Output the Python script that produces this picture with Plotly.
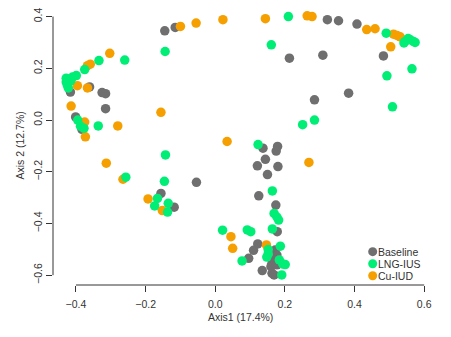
import plotly.graph_objects as go

# PCoA coordinates (Axis1, Axis2) per sample, grouped by contraception status
baseline_x = [-0.145, -0.115, -0.416, -0.361, -0.325, -0.315, -0.315, -0.401, -0.383,
              -0.156, -0.118, -0.054, 0.322, 0.354, 0.407, 0.213, 0.309, 0.483, 0.383,
              0.285, 0.137, 0.179, 0.175, 0.144, 0.121, 0.180, 0.150, 0.125, 0.174,
              0.178, 0.122, 0.110, 0.096, 0.172, 0.177, 0.169, 0.163, 0.160, 0.135,
              0.163, 0.169, 0.177]
baseline_y = [0.345, 0.358, 0.108, 0.128, 0.106, 0.102, 0.044, 0.012, -0.036,
              -0.284, -0.337, -0.241, 0.388, 0.384, 0.371, 0.239, 0.251, 0.248, 0.104,
              0.078, -0.109, -0.102, -0.120, -0.152, -0.177, -0.180, -0.211, -0.293, -0.329,
              -0.432, -0.479, -0.504, -0.535, -0.503, -0.522, -0.541, -0.554, -0.567, -0.582,
              -0.593, -0.599, -0.560]

lng_x = [-0.144, -0.260, -0.334, -0.375, -0.399, -0.410, -0.422, -0.428, -0.425, -0.422,
         -0.415, -0.428, -0.395, -0.387, -0.377, -0.336, -0.257, -0.143, -0.146, -0.166,
         -0.174, -0.135, -0.137, 0.210, 0.161, 0.491, 0.545, 0.560, 0.569, 0.574,
         0.542, 0.554, 0.565, 0.493, 0.509, 0.285, 0.251, 0.123, 0.164, 0.169,
         0.177, 0.182, 0.164, 0.021, 0.092, 0.102, 0.152, 0.152, 0.148, 0.187,
         0.077, 0.184, 0.194, 0.201, 0.191]
lng_y = [0.265, 0.232, 0.230, 0.195, 0.172, 0.166, 0.158, 0.147, 0.135, 0.124,
         0.151, 0.162, 0.000, -0.024, -0.032, -0.023, -0.221, -0.135, -0.237, -0.303,
         -0.332, -0.322, -0.356, 0.400, 0.291, 0.336, 0.304, 0.310, 0.304, 0.300,
         0.298, 0.315, 0.198, 0.171, 0.051, 0.000, -0.018, -0.095, -0.274, -0.361,
         -0.375, -0.387, -0.421, -0.426, -0.425, -0.432, -0.501, -0.518, -0.530, -0.488,
         -0.545, -0.541, -0.557, -0.559, -0.599]

cu_x = [-0.100, -0.055, 0.022, -0.303, -0.359, -0.367, -0.396, -0.367, -0.414, -0.375,
        -0.373, -0.280, -0.156, -0.313, -0.265, -0.193, -0.152, 0.144, 0.264, 0.278,
        0.435, 0.459, 0.512, 0.522, 0.531, 0.504, 0.034, 0.269, 0.045, 0.050, 0.147]
cu_y = [0.362, 0.375, 0.388, 0.258, 0.216, 0.210, 0.133, 0.124, 0.054, -0.008,
        -0.065, -0.023, 0.030, -0.167, -0.229, -0.305, -0.350, 0.392, 0.403, 0.400,
        0.350, 0.353, 0.332, 0.327, 0.322, 0.283, -0.083, -0.164, -0.451, -0.496, -0.483]

group_names = ["Baseline", "LNG-IUS", "Cu-IUD"]
group_colors = ["#6f6f6f", "#00ee76", "#f5a000"]

x_ticks = [-0.4, -0.2, 0.0, 0.2, 0.4, 0.6]
x_tick_labels = ["\u22120.4", "\u22120.2", "0.0", "0.2", "0.4", "0.6"]
y_ticks = [-0.6, -0.4, -0.2, 0.0, 0.2, 0.4]
y_tick_labels = ["\u22120.6", "\u22120.4", "\u22120.2", "0.0", "0.2", "0.4"]

x_title = "Axis1 (17.4%)"
y_title = "Axis 2 (12.7%)"

FONT = "Liberation Sans, Arial, Helvetica, sans-serif"
INK = "#333333"

fig = go.Figure()
series = [(baseline_x, baseline_y), (cu_x, cu_y), (lng_x, lng_y)]
order = [0, 2, 1]
for (xs, ys), gi in zip(series, order):
    fig.add_trace(go.Scatter(
        x=xs, y=ys, mode="markers", name=group_names[gi],
        marker=dict(size=9.5, color=group_colors[gi], line=dict(width=0)),
        showlegend=False, hoverinfo="skip",
    ))

# R-style axes: lines spanning only the first to last tick
fig.add_shape(type="line", xref="x", yref="paper", x0=x_ticks[0], x1=x_ticks[-1],
              y0=0, y1=0, line=dict(color=INK, width=1))
fig.add_shape(type="line", xref="paper", yref="y", x0=0, x1=0,
              y0=y_ticks[0], y1=y_ticks[-1], line=dict(color=INK, width=1))

# Legend in the lower right corner
leg_x = 0.8525
leg_rows = [0.1194, 0.0763, 0.0333]
for name, col, yy in zip(group_names, group_colors, leg_rows):
    fig.add_shape(type="circle", xref="paper", yref="paper",
                  xsizemode="pixel", ysizemode="pixel",
                  xanchor=leg_x, yanchor=yy, x0=-4.5, x1=4.5, y0=-4.5, y1=4.5,
                  fillcolor=col, line=dict(width=0))
    fig.add_annotation(x=leg_x, y=yy, xref="paper", yref="paper", text=name,
                       showarrow=False, xanchor="left", yanchor="middle",
                       xshift=3, font=dict(family=FONT, size=10.5, color=INK))

fig.add_annotation(x=0.5, y=0, xref="paper", yref="paper", text=x_title,
                   showarrow=False, xanchor="center", yanchor="middle", yshift=-32,
                   font=dict(family=FONT, size=10.5, color=INK))
fig.add_annotation(x=0, y=0.5, xref="paper", yref="paper", text=y_title,
                   showarrow=False, xanchor="center", yanchor="middle", xshift=-34,
                   textangle=-90, font=dict(family=FONT, size=10.5, color=INK))

fig.update_xaxes(range=[-0.466, 0.611], tickvals=x_ticks, ticktext=x_tick_labels,
                 showgrid=False, zeroline=False, showline=False,
                 ticks="outside", ticklen=6, tickwidth=1, tickcolor=INK,
                 ticklabelstandoff=3,
                 tickfont=dict(family=FONT, size=10.5, color=INK))
fig.update_yaxes(range=[-0.638, 0.441], tickvals=y_ticks, ticktext=y_tick_labels,
                 showgrid=False, zeroline=False, showline=False,
                 ticks="outside", ticklen=6, tickwidth=1, tickcolor=INK, tickangle=-90,
                 tickfont=dict(family=FONT, size=10.5, color=INK))

fig.update_layout(
    width=451, height=337,
    margin=dict(l=53, r=23, t=6, b=52),
    paper_bgcolor="white", plot_bgcolor="white",
    showlegend=False,
)

fig.write_html("out.html")
